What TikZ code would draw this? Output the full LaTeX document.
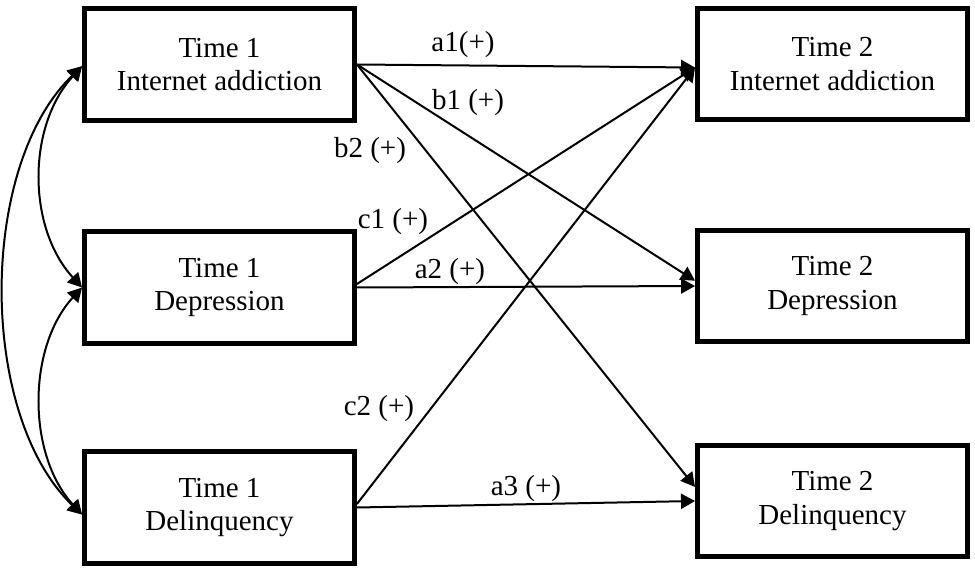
\documentclass[tikz,border=0pt]{standalone}
\usepackage{fontspec}
\setmainfont{Liberation Serif}
\usetikzlibrary{arrows.meta}

\tikzset{
    var/.style={draw, line width=0.1cm, minimum width=5.4cm, minimum height=2.24cm,
        align=center, inner sep=0pt, font=\fontsize{16.5}{19}\selectfont},
    path/.style={line width=0.04cm, -{Triangle[length=0.28cm,width=0.3cm]}},
    cov/.style={line width=0.04cm, {Triangle[length=0.28cm,width=0.3cm]}-{Triangle[length=0.28cm,width=0.3cm]}},
    lab/.style={inner sep=0pt, font=\fontsize{16.5}{19}\selectfont}
}

\begin{document}
\begin{tikzpicture}[x=0.02cm,y=-0.02cm]

\useasboundingbox (0,0) rectangle (975,571);

% time 1 variables
\foreach \i/\y/\name in {1/64.5/Internet addiction,2/287.5/Depression,3/507.5/Delinquency}
{
    \node[var] (t1\i) at (219.5,\y) {Time 1\\\name};
}

% time 2 variables
\foreach \i/\y/\name in {1/64/Internet addiction,2/286/Depression,3/501/Delinquency}
{
    \node[var] (t2\i) at (832.5,\y) {Time 2\\\name};
}

% cross-lagged paths
\draw[path] (t11.east) -- ([yshift=-2]t21.west);
\draw[path] (t11.east) -- ([yshift=3]t22.west);
\draw[path] (t11.east) -- ([yshift=8]t23.west);
\draw[path] ([yshift=2]t12.east) -- ([yshift=-2]t21.west);
\draw[path] (t12.east) -- (t22.west);
\draw[path] ([yshift=2]t13.east) -- ([yshift=-2]t21.west);
\draw[path] (t13.east) -- (t23.west);

% covariances
\draw[cov] ([yshift=-1]t11.west) .. controls +(-55,60) and +(-55,-60) .. (t12.west);
\draw[cov] (t12.west) .. controls +(-55,60) and +(-55,-60) .. ([yshift=-4]t13.west);
\draw[cov] ([yshift=-1]t11.west) .. controls +(-104,100) and +(-104,-100) .. ([yshift=-4]t13.west);

% coefficients
\node[lab] (a1) at (463,45) {a1(+)};
\node[lab] (b1) at (468,103) {b1 (+)};
\node[lab] (b2) at (370,151) {b2 (+)};
\node[lab] (c1) at (393,222) {c1 (+)};
\node[lab] (a2) at (450,272) {a2 (+)};
\node[lab] (c2) at (379,409) {c2 (+)};
\node[lab] (a3) at (526,489) {a3 (+)};

\end{tikzpicture}
\end{document}
